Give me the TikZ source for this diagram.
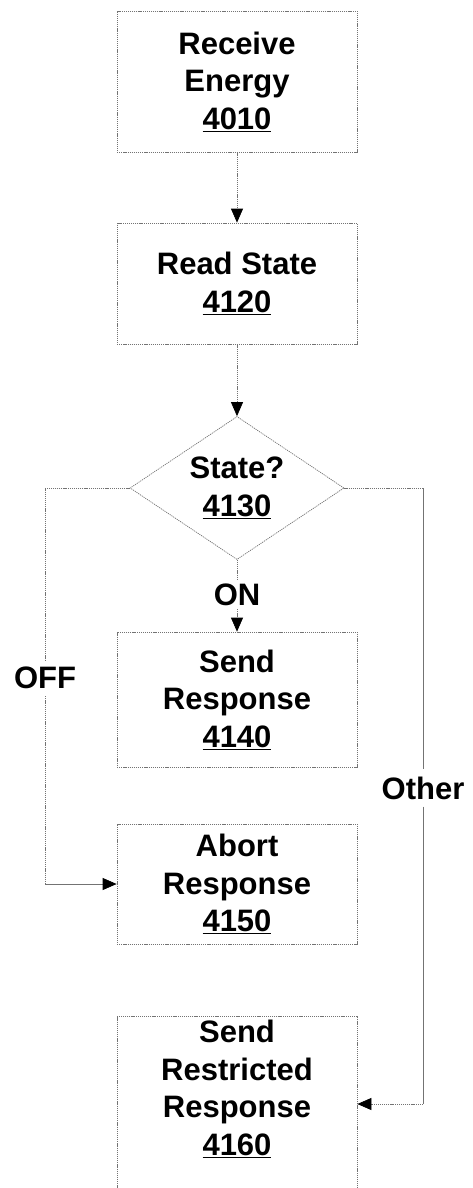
\documentclass[tikz,border=0pt]{standalone}
\usepackage{fontspec}
\setmainfont{Liberation Sans}
\usetikzlibrary{
    arrows.meta,
    positioning,
    shapes.geometric
}

\begin{document}
\begin{tikzpicture}[
    x=1pt, y=-1pt,
    >={Triangle[length=14pt, width=12pt, color=black]},
    txt/.style={font=\bfseries\fontsize{31}{37.5}\selectfont, align=center},
    box/.style={txt, draw=black!55, line width=0.7pt, dash pattern=on 1.2pt off 0.9pt, minimum width=240pt, inner sep=0pt},
    decision/.style={txt, diamond, draw=black!55, line width=0.7pt, dash pattern=on 1.2pt off 0.9pt, aspect=1.5, minimum width=214pt, minimum height=143pt, inner sep=0pt},
    flow/.style={draw=black!55, line width=0.7pt, dash pattern=on 1.2pt off 0.9pt},
    plain/.style={draw=black!55, line width=0.7pt},
    tag/.style={txt, inner xsep=2pt, inner ysep=7pt}
]
\clip (0,0) rectangle (473,1188);

% Steps
\node[box, minimum height=141pt] (energy) at (237,81.5) {Receive\\Energy\\\underline{4010}};
\node[box, minimum height=121pt] (readstate) at (237,283.5) {Read State\\\underline{4120}};
\node[decision] (state) at (237,488) {State?\\\underline{4130}};
\node[box, minimum height=135pt] (sendresp) at (237,699.5) {Send\\Response\\\underline{4140}};
\node[box, minimum height=120pt] (abort) at (237,884) {Abort\\Response\\\underline{4150}};
\node[box, minimum height=176pt] (restrict) at (237,1104) {};
\node[txt] (restricttext) at (237,1089) {Send\\Restricted\\Response\\\underline{4160}};

% Branch labels
\node[tag, inner ysep=3pt] (on) at (237,595) {ON};
\node[tag] (off) at (45,678) {OFF};
\node[tag] (other) at (423,788) {Other};

% Corners of the side branches
\coordinate (offbend) at (off.south |- abort.west);
\coordinate (othertop) at (other.north |- state.east);
\coordinate (otherbend) at (other.south |- restrict.east);

% Connectors
\draw[flow, ->] (energy) -- (readstate);
\draw[flow, ->] (readstate) -- (state);
\draw[flow] (state.south) -- (on.north);
\draw[flow, ->] (on.south) -- (sendresp.north);
\draw[flow] (state.west) -| (off.north);
\draw[flow] (off.south) -- (offbend);
\draw[plain, ->] (offbend) -- (abort.west);
\draw[flow] (state.east) -- (othertop);
\draw[plain] (othertop) -- (other.north);
\draw[plain] (other.south) -- (otherbend);
\draw[flow, ->] (otherbend) -- (restrict.east);
\end{tikzpicture}
\end{document}
